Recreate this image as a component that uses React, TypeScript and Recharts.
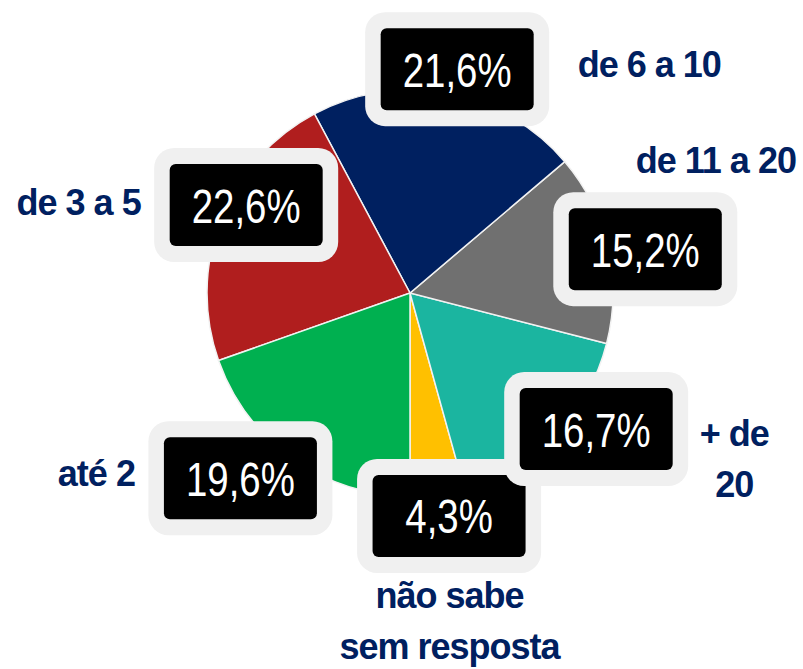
import React from "react";
import { PieChart, Pie, Cell } from "recharts";

// ---- data ----
const categories = ["não sabe\nsem resposta", "+ de\n20", "de 11 a 20", "de 6 a 10", "de 3 a 5", "até 2"];
const values = [4.3, 16.7, 15.2, 21.6, 22.6, 19.6];
const colors = ["#FFC000", "#1BB5A0", "#707070", "#002060", "#B01E1E", "#00B050"];

// ---- label layout (polar position of the value box, and category text offset from the box) ----
const boxRadiusFactor = [1.115, 1.136, 1.179, 1.127, 0.916, 1.237];
const boxAngleShift = [2.2, 8.3, -2.4, -1.1, -7.0, -7.2];
const catDx = [0.5, 138, -9.5, 120.5, -105.5, -105.5];
const catDy = [92, 17, -76, 8, 9.5, 8];
const catAnchor = ["middle", "middle", "start", "start", "end", "end"];

const data = categories.map((name, i) => ({ name, value: values[i] }));

const RAD = Math.PI / 180;
const NAVY = "#002060";
const BOX_W = 184;
const BOX_H = 114;
const IN_W = 153;
const IN_H = 82;
const NARROW = 0.8;

const renderLabel = (props: any) => {
  const { cx, cy, outerRadius, index, value } = props;
  let midAngle = props.midAngle;
  if (typeof midAngle !== "number") {
    const total = values.reduce((a, b) => a + b, 0);
    const before = values.slice(0, index).reduce((a, b) => a + b, 0);
    midAngle = -90 + ((before + values[index] / 2) / total) * 360;
  }
  const ang = (midAngle + boxAngleShift[index]) * RAD;
  const r = outerRadius * boxRadiusFactor[index];
  const bx = cx + r * Math.cos(ang);
  const by = cy - r * Math.sin(ang);
  const txt = Number(value).toFixed(1).replace(".", ",") + "%";
  const lines = categories[index].split("\n");
  return (
    <g key={`lbl-${index}`}>
      <rect x={bx - BOX_W / 2} y={by - BOX_H / 2} width={BOX_W} height={BOX_H} rx={20} ry={20} fill="#F0F0F0" />
      <rect x={bx - IN_W / 2} y={by - IN_H / 2} width={IN_W} height={IN_H} rx={6} ry={6} fill="#000000" />
      <g transform={`translate(${bx}, ${by + 17.5}) scale(${NARROW}, 1)`}>
        <text
          x={0}
          y={0}
          textAnchor="middle"
          fill="#FFFFFF"
          fontSize={48}
          fontFamily="'Liberation Sans', Arial, sans-serif"
        >
          {txt}
        </text>
      </g>
      {lines.map((ln, j) => (
        <text
          key={j}
          x={bx + catDx[index]}
          y={by + catDy[index] + j * 51}
          textAnchor={catAnchor[index] as any}
          fill={NAVY}
          fontSize={36}
          fontWeight="bold"
          letterSpacing={-1}
          fontFamily="'Liberation Sans', Arial, sans-serif"
        >
          {ln}
        </text>
      ))}
    </g>
  );
};

export default function App() {
  return (
    <div style={{ position: "absolute", left: 0, top: 0, width: 803, height: 669, background: "#FFFFFF" }}>
      <PieChart width={803} height={669} margin={{ top: 0, right: 0, bottom: 0, left: 0 }}>
        <Pie
          data={data}
          dataKey="value"
          nameKey="name"
          cx={410}
          cy={293}
          outerRadius={203}
          startAngle={-90}
          endAngle={270}
          stroke="#F2F2F2"
          strokeWidth={1.5}
          label={renderLabel}
          labelLine={false}
          isAnimationActive={false}
        >
          {data.map((d, i) => (
            <Cell key={d.name} fill={colors[i]} />
          ))}
        </Pie>
      </PieChart>
    </div>
  );
}
